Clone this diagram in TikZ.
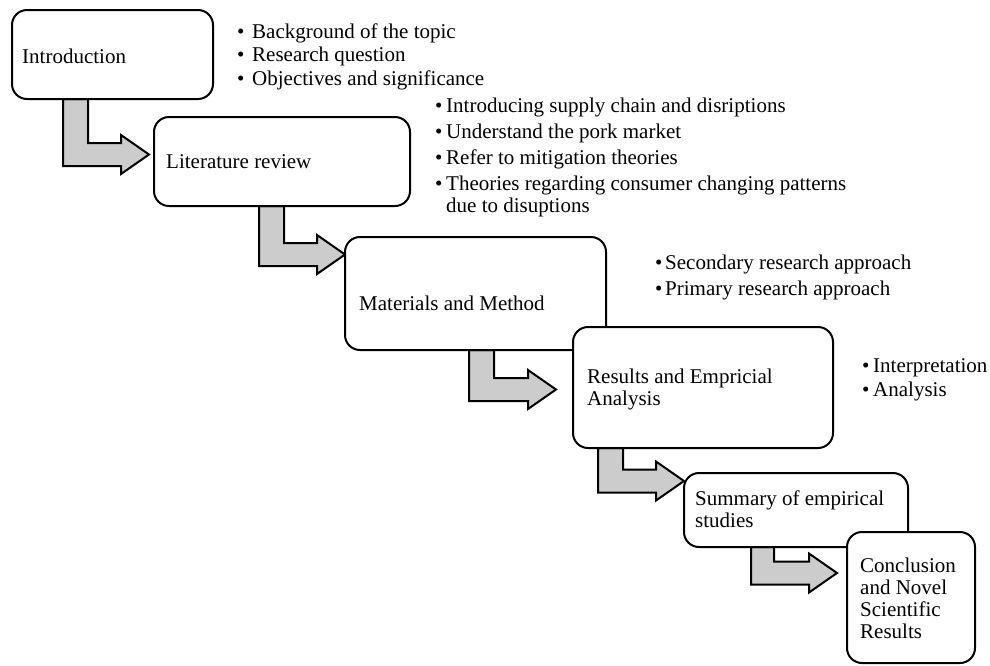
\documentclass[tikz,border=0pt]{standalone}
\usepackage{fontspec}
\setmainfont{Liberation Serif}
\usetikzlibrary{calc,backgrounds}

\tikzset{
  stage/.style={draw=black, line width=2pt, rounded corners=15pt, fill=white,
    anchor=north west, inner sep=0pt, outer sep=0pt},
  % multi-line texts are placed by the baseline of their last line
  stagetext/.style={anchor=base west, inner sep=0pt, align=left,
    font=\fontsize{21}{22}\selectfont},
  notes/.style={anchor=base west, inner sep=0pt, align=left,
    font=\fontsize{21}{22}\selectfont},
  flowarrow/.style={draw=black, line width=2pt, fill=gray!40, line join=miter},
}

% bullet item with a fixed gap between bullet and text
\newcommand\itm[2][11pt]{\makebox[#1][l]{\textbullet}#2}

% bent block arrow: #1 source node, #2 tip coordinate, #3 stem left x (pt), #4 stem width (pt)
\newcommand\stagearrow[4]{%
  \draw[flowarrow] let \p1=(#1.south), \p2=(#2) in
    ({#3pt},\y1) -- ({#3pt+#4pt},\y1) -- ({#3pt+#4pt},{\y2+11.5pt})
    -- ({\x2-28pt},{\y2+11.5pt}) -- ({\x2-28pt},{\y2+19.5pt}) -- (\x2,\y2)
    -- ({\x2-28pt},{\y2-19.5pt}) -- ({\x2-28pt},{\y2-11.5pt})
    -- ({#3pt},{\y2-11.5pt}) -- cycle;}

\begin{document}
\begin{tikzpicture}[x=1pt,y=-1pt]
  \useasboundingbox (0,0) rectangle (990,665);

  % stage boxes
  \node[stage, minimum width=201pt, minimum height=89pt]  (intro) at (12,10)  {};
  \node[stage, minimum width=256pt, minimum height=89pt]  (lit)   at (154,117) {};
  \node[stage, minimum width=261pt, minimum height=113pt] (mat)   at (345,237) {};
  \node[stage, minimum width=260pt, minimum height=121pt] (res)   at (573,327) {};
  \node[stage, minimum width=224pt, minimum height=74pt]  (sum)   at (684,473) {};
  \node[stage, minimum width=128pt, minimum height=131pt] (con)   at (847,532) {};

  % stage titles
  \node[stagetext] (introtxt) at (22,63)   {Introduction};
  \node[stagetext] (littxt)   at (166,168) {Literature review};
  \node[stagetext] (mattxt)   at (359,310) {Materials and Method};
  \node[stagetext] (restxt)   at (587,405) {Results and Empricial\\Analysis};
  \node[stagetext] (sumtxt)   at (695,527) {Summary of empirical\\studies};
  \node[stagetext] (contxt)   at (860,638) {Conclusion\\and Novel\\Scientific\\Results};

  % arrow tips
  \coordinate (tip1) at (149,154.5);
  \coordinate (tip2) at (345,254.5);
  \coordinate (tip3) at (556,389.5);
  \coordinate (tip4) at (684,481);
  \coordinate (tip5) at (837,573);

  % connecting arrows, behind the boxes
  \begin{scope}[on background layer]
    \stagearrow{intro}{tip1}{63}{25}
    \stagearrow{lit}{tip2}{259}{25}
    \stagearrow{mat}{tip3}{469}{25}
    \stagearrow{res}{tip4}{598}{25}
    \stagearrow{sum}{tip5}{751}{23}
  \end{scope}

  % notes beside each stage
  \node[notes] (introlist) at (237,85) {%
    \itm[15pt]{Background of the topic}\\[1.5pt]
    \itm[15pt]{Research question}\\[1.5pt]
    \itm[15pt]{Objectives and significance}};
  \node[notes] (litlist) at (435,212) {%
    \itm{Introducing supply chain and disriptions}\\[3.7pt]
    \itm{Understand the pork market}\\[3.7pt]
    \itm{Refer to mitigation theories}\\[3.7pt]
    \itm{Theories regarding consumer changing patterns}\\
    \hspace*{11pt}due to disuptions};
  \node[notes] (matlist) at (655,295) {%
    \itm[10pt]{Secondary research approach}\\[4pt]
    \itm[10pt]{Primary research approach}};
  \node[notes] (reslist) at (862,396) {%
    \itm{Interpretation}\\[2pt]
    \itm{Analysis}};
\end{tikzpicture}
\end{document}
